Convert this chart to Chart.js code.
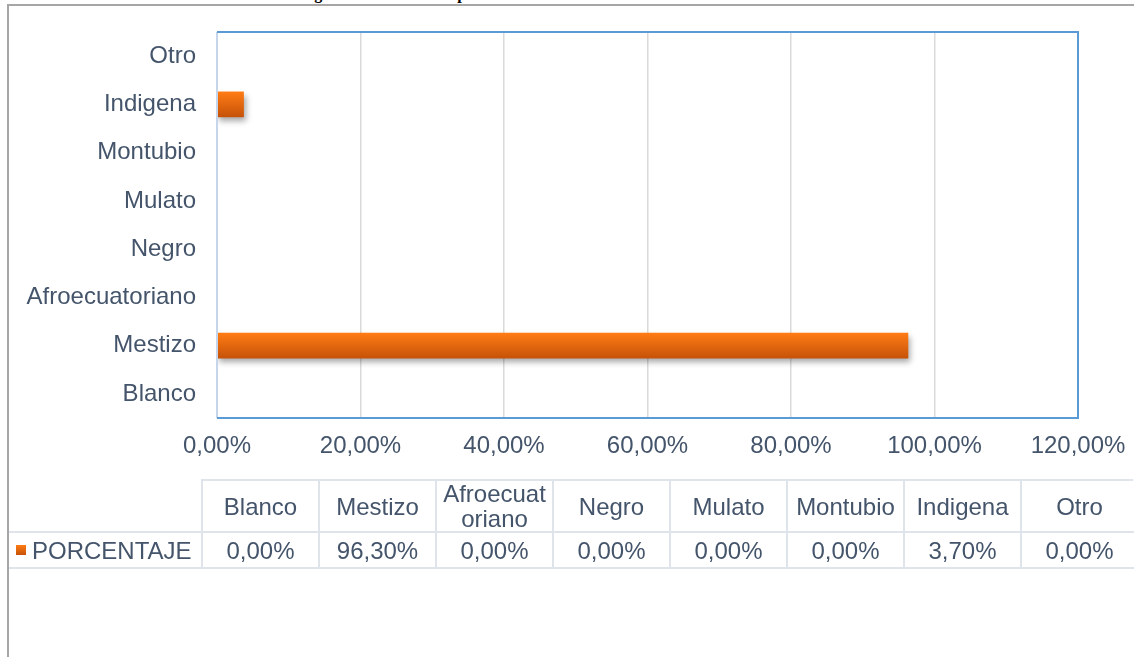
<!DOCTYPE html>
<html>
<head>
<meta charset="utf-8">
<script src="https://cdn.jsdelivr.net/npm/chart.js@4.4.1/dist/chart.umd.min.js"></script>
<style>
    body { margin: 0; background: #fff; overflow: hidden; }
    #wrap { position: relative; width: 1134px; height: 657px; font-family: "Liberation Sans", Arial, sans-serif; color: #44546a; }
    #frame { position: absolute; left: 7px; top: 4px; right: 0; bottom: -5px; border-left: 2px solid #a6a6a6; border-top: 2px solid #a6a6a6; }
    #title { position: absolute; left: 300px; top: -15px; font: bold 16px "Liberation Serif", serif; color: #000; white-space: nowrap; }
    canvas { position: absolute; left: 0; top: 0; }
    .cell { position: absolute; box-sizing: border-box; display: flex; align-items: center; justify-content: center; text-align: center; font-size: 24px; line-height: 25px; }
    .hline { position: absolute; height: 2px; background: #dfe3ea; }
    .vline { position: absolute; width: 2px; background: #dfe3ea; }
</style>
</head>
<body>
<div id="wrap">
    <div id="title">Figura 5.5: Etnia de la población encuestada en el área de estudio</div>
    <div id="frame"></div>
    <canvas id="barChart" width="1134" height="657"></canvas>
    <div id="table"></div>
</div>
<script>
const categories = ["Blanco", "Mestizo", "Afroecuatoriano", "Negro", "Mulato", "Montubio", "Indigena", "Otro"];
const seriesName = "PORCENTAJE";
const porcentaje = [0, 96.3, 0, 0, 0, 0, 3.7, 0];
const xTicks = [0, 20, 40, 60, 80, 100, 120];

const fmt = v => v.toFixed(2).replace(".", ",") + "%";

// Data table under the chart
const table = document.getElementById("table");
const colLeft = 202, colW = 117, rowTop = 480, headH = 52, rowH = 36;

function addDiv(cls, css, html) {
    const d = document.createElement("div");
    d.className = cls;
    Object.assign(d.style, css);
    if (html !== undefined) d.innerHTML = html;
    table.appendChild(d);
    return d;
}

categories.forEach((c, i) => {
    const x = colLeft + i * colW;
    addDiv("cell", { left: x + "px", top: rowTop + "px", width: colW + "px", height: headH + "px", padding: "0 4px", wordBreak: "break-all" }, c);
    addDiv("cell", { left: x + "px", top: (rowTop + headH) + "px", width: colW + "px", height: rowH + "px" }, fmt(porcentaje[i]));
    addDiv("vline", { left: (x - 1) + "px", top: rowTop + "px", height: (headH + rowH) + "px" });
});
addDiv("cell", { left: "8px", top: (rowTop + headH) + "px", width: (colLeft - 8) + "px", height: rowH + "px", justifyContent: "flex-start", paddingLeft: "8px" },
    '<span style="display:inline-block;width:10px;height:10px;margin-right:6px;background:linear-gradient(#ff7c14,#c65209)"></span>' + seriesName);
addDiv("hline", { left: (colLeft - 1) + "px", top: (rowTop - 1) + "px", width: (1134 - colLeft) + "px" });
addDiv("hline", { left: "9px", top: (rowTop + headH - 1) + "px", width: "1125px" });
addDiv("hline", { left: "9px", top: (rowTop + headH + rowH - 1) + "px", width: "1125px" });

// Bar chart
const plotBorder = {
    id: "plotBorder",
    beforeDatasetsDraw(chart) {
        const { ctx } = chart;
        ctx.save();
        ctx.shadowColor = "rgba(0,0,0,0.35)";
        ctx.shadowBlur = 6;
        ctx.shadowOffsetX = 2;
        ctx.shadowOffsetY = 4;
    },
    afterDatasetsDraw(chart) {
        chart.ctx.restore();
        const { ctx, chartArea: a } = chart;
        ctx.save();
        ctx.lineWidth = 2;
        ctx.strokeStyle = "#c5d6ec";
        ctx.beginPath();
        ctx.moveTo(a.left, a.top);
        ctx.lineTo(a.left, a.bottom);
        ctx.stroke();
        ctx.strokeStyle = "#5b9bd5";
        ctx.beginPath();
        ctx.moveTo(a.left, a.top);
        ctx.lineTo(a.right, a.top);
        ctx.lineTo(a.right, a.bottom);
        ctx.lineTo(a.left, a.bottom);
        ctx.stroke();
        ctx.restore();
    }
};

const barCtx = document.getElementById("barChart").getContext("2d");
new Chart(barCtx, {
    type: "bar",
    data: {
        labels: categories,
        datasets: [{
            label: seriesName,
            data: porcentaje,
            barThickness: 25,
            borderWidth: 0,
            backgroundColor: (c) => {
                const chart = c.chart;
                if (c.raw === 0) return "rgba(0,0,0,0)";
                if (!chart.chartArea) return "#ee6a12";
                const y = chart.scales.y.getPixelForValue(c.dataIndex);
                const g = chart.ctx.createLinearGradient(0, y - 12.5, 0, y + 12.5);
                g.addColorStop(0, "#ff7c14");
                g.addColorStop(1, "#c65209");
                return g;
            }
        }]
    },
    options: {
        indexAxis: "y",
        responsive: false,
        animation: false,
        layout: { padding: { left: 0, top: 32, right: 56, bottom: 189 } },
        plugins: {
            legend: { display: false },
            tooltip: { enabled: false }
        },
        scales: {
            x: {
                min: 0,
                max: 120,
                afterFit: s => { s.height = 50; s.paddingLeft = 0; s.paddingRight = 0; },
                afterBuildTicks: s => { s.ticks = xTicks.map(v => ({ value: v })); },
                grid: { color: "#dadada", lineWidth: 1.5, drawTicks: false },
                border: { display: false },
                ticks: {
                    padding: 14,
                    color: "#44546a",
                    font: { family: "Liberation Sans", size: 24 },
                    callback: v => fmt(v)
                }
            },
            y: {
                reverse: true,
                afterFit: s => { s.width = 217; s.paddingTop = 0; s.paddingBottom = 0; },
                grid: { display: false, drawTicks: false },
                border: { display: false },
                ticks: {
                    padding: 21,
                    color: "#44546a",
                    font: { family: "Liberation Sans", size: 24 }
                }
            }
        }
    },
    plugins: [plotBorder]
});
</script>
</body>
</html>
